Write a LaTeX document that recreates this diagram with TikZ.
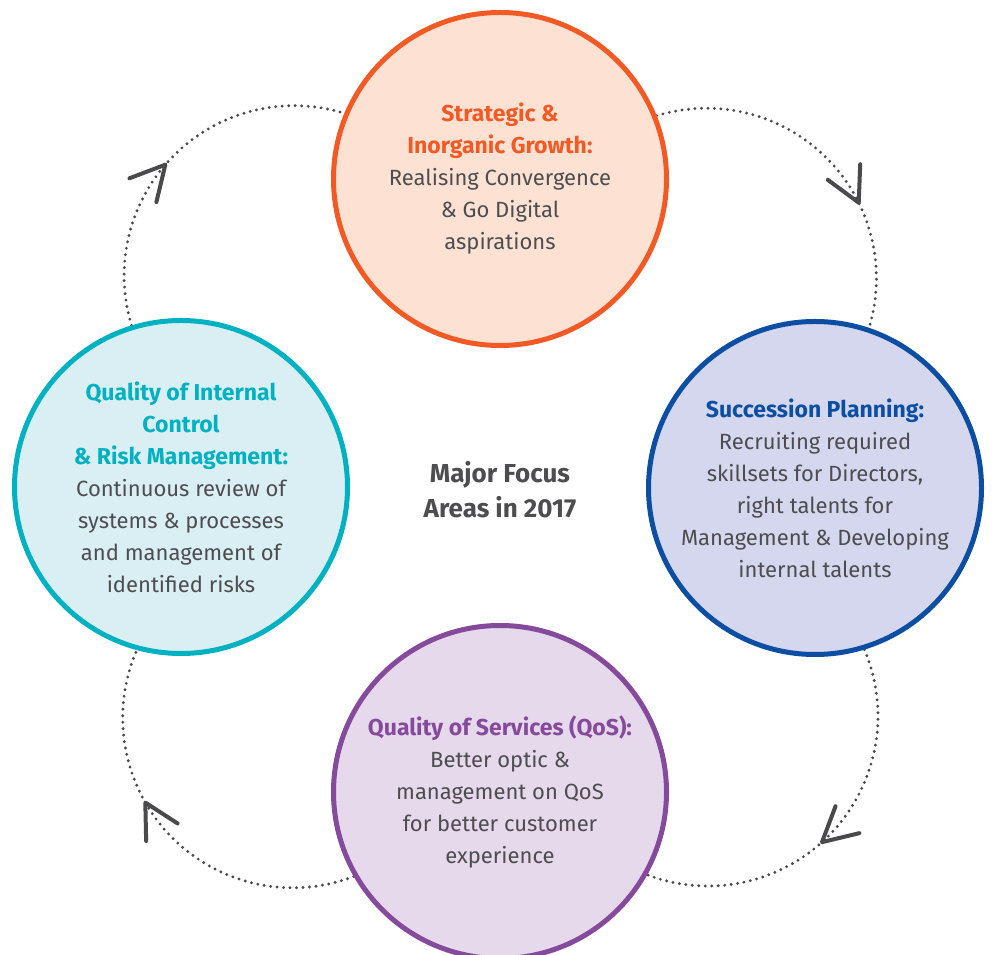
\documentclass[tikz,border=0pt]{standalone}
\usepackage{fontspec}
\setmainfont{Fira Sans}
\usetikzlibrary{arrows.meta}
\usetikzlibrary{decorations.markings}
\usetikzlibrary{backgrounds}

\definecolor{stratline}{HTML}{F15A24}
\definecolor{stratfill}{HTML}{FDE2D3}
\definecolor{succline}{HTML}{0B4EA2}
\definecolor{succfill}{HTML}{D4D7EE}
\definecolor{qosline}{HTML}{864A9C}
\definecolor{qosfill}{HTML}{E5D9EB}
\definecolor{ctrlline}{HTML}{00B1C1}
\definecolor{ctrlfill}{HTML}{DAEFF3}
\definecolor{bodytext}{HTML}{4D4D4F}
\definecolor{ringgray}{HTML}{4A4A4C}
\newcommand{\hd}[2]{\textcolor{#1}{\fontsize{23}{32}\selectfont\textbf{#2}}}

\begin{document}
\begin{tikzpicture}[x=1pt,y=1pt]
\tikzstyle{area} = [circle, line width=5pt, minimum size=333pt, inner sep=0pt, align=center, text=bodytext, font=\fontsize{22}{32}\selectfont]
\tikzstyle{ring} = [draw=ringgray, line width=3.2pt, line cap=round, dash pattern=on 0pt off 6.5pt]
\tikzstyle{ringtip} = [postaction={decorate, solid, decoration={markings, mark=at position #1 with {\arrow[ringgray]{Straight Barb[length=34pt, width=36pt, line width=4pt, round]}}}}]
\useasboundingbox (0,0) rectangle (993,955);
% focus areas
\node [area, draw=stratline, fill=stratfill] (strat) at (500,776)
  {\hd{stratline}{Strategic \&}\\ \hd{stratline}{Inorganic Growth:}\\ Realising Convergence\\ \& Go Digital\\ aspirations};
\node [area, draw=succline, fill=succfill] (succ) at (815,467)
  {\hd{succline}{Succession Planning:}\\ Recruiting required\\ skillsets for Directors,\\ right talents for\\ Management \& Developing\\ internal talents};
\node [area, draw=qosline, fill=qosfill] (qos) at (500,163)
  {\hd{qosline}{Quality of Services (QoS):}\\ Better optic \&\\ management on QoS\\ for better customer\\ experience};
\node [area, draw=ctrlline, fill=ctrlfill] (ctrl) at (181,468)
  {\hd{ctrlline}{Quality of Internal}\\ \hd{ctrlline}{Control}\\ \hd{ctrlline}{\& Risk Management:}\\ Continuous review of\\ systems \& processes\\ and management of\\ identified risks};
% centre
\node [align=center, text=bodytext, font=\fontsize{26}{35}\selectfont\bfseries] (focus) at (500,465) {Major Focus\\ Areas in 2017};
% dotted ring
\begin{scope}[on background layer]
\draw [ring, ringtip=0.46] (ctrl.107) arc[start angle=197, end angle=70, radius=170];
\draw [ring, ringtip=0.64] (strat.22) arc[start angle=107, end angle=-20, radius=170];
\draw [ring, ringtip=0.53] (succ.-73) arc[start angle=23, end angle=-112, radius=170];
\draw [ring, ringtip=0.58] (qos.210) arc[start angle=-69, end angle=-210, radius=170];
\end{scope}
\end{tikzpicture}
\end{document}
